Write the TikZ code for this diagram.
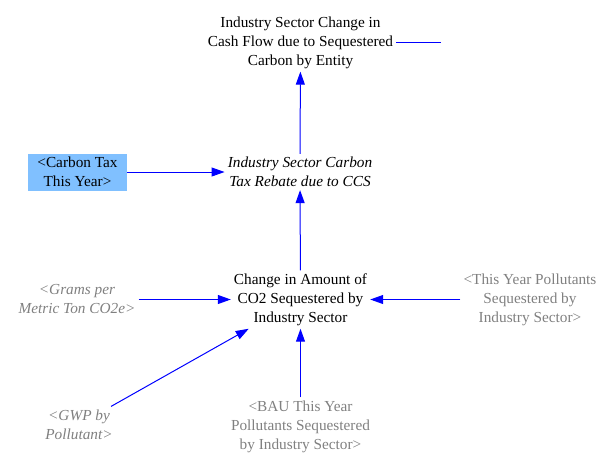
\documentclass[tikz,border=0pt]{standalone}
\usepackage{fontspec}
\newfontfamily\vfont{Liberation Serif}
\usetikzlibrary{arrows.meta}
\definecolor{linkblue}{RGB}{0,0,255}
\definecolor{shadowgray}{RGB}{128,128,128}
\definecolor{boxblue}{RGB}{128,192,255}
\tikzset{
  var/.style={align=center, inner sep=3pt, font=\vfont\fontsize{15.3}{19}\selectfont},
  shadowvar/.style={var, text=shadowgray},
  shadowit/.style={var, text=shadowgray, font=\vfont\fontsize{15.3}{19}\selectfont\itshape},
  auxit/.style={var, font=\vfont\fontsize{15.3}{19}\selectfont\itshape},
  hilite/.style={var, fill=boxblue, minimum width=99pt, minimum height=37pt, inner sep=0pt},
  link/.style={draw=linkblue, line width=1pt, -{Triangle[length=13pt,width=9pt]}},
  plainlink/.style={draw=linkblue, line width=1pt}
}
\begin{document}
\begin{tikzpicture}[x=1pt,y=-1pt]
\useasboundingbox (0,0) rectangle (610,467);
\node[var] (top) at (300.5,42.5) {Industry Sector Change in\\Cash Flow due to Sequestered\\Carbon by Entity};
\coordinate (stubend) at (441,42.5);
\node[auxit] (rebate) at (300,172) {Industry Sector Carbon\\Tax Rebate due to CCS};
\node[hilite] (tax) at (77.5,172) {\textless Carbon Tax\\This Year\textgreater};
\node[var] (change) at (300.5,299.5) {Change in Amount of\\CO2 Sequestered by\\Industry Sector};
\node[shadowit] (grams) at (77,299.5) {\textless Grams per\\Metric Ton CO2e\textgreater};
\node[shadowvar] (thisyear) at (530,299.5) {\textless This Year Pollutants\\Sequestered by\\Industry Sector\textgreater};
\node[shadowit] (gwp) at (79,424.5) {\textless GWP by\\Pollutant\textgreater};
\node[shadowvar] (bau) at (300.5,426.5) {\textless BAU This Year\\Pollutants Sequestered\\by Industry Sector\textgreater};

\draw[plainlink] (top.east) -- (stubend);
\draw[link] (rebate) -- (top);
\draw[link] (tax) -- (rebate);
\draw[link] (change) -- (rebate);
\draw[link] (grams) -- (change);
\draw[link] (thisyear) -- (change);
\draw[link] (gwp) -- (change);
\draw[link] (bau) -- (change);
\end{tikzpicture}
\end{document}
